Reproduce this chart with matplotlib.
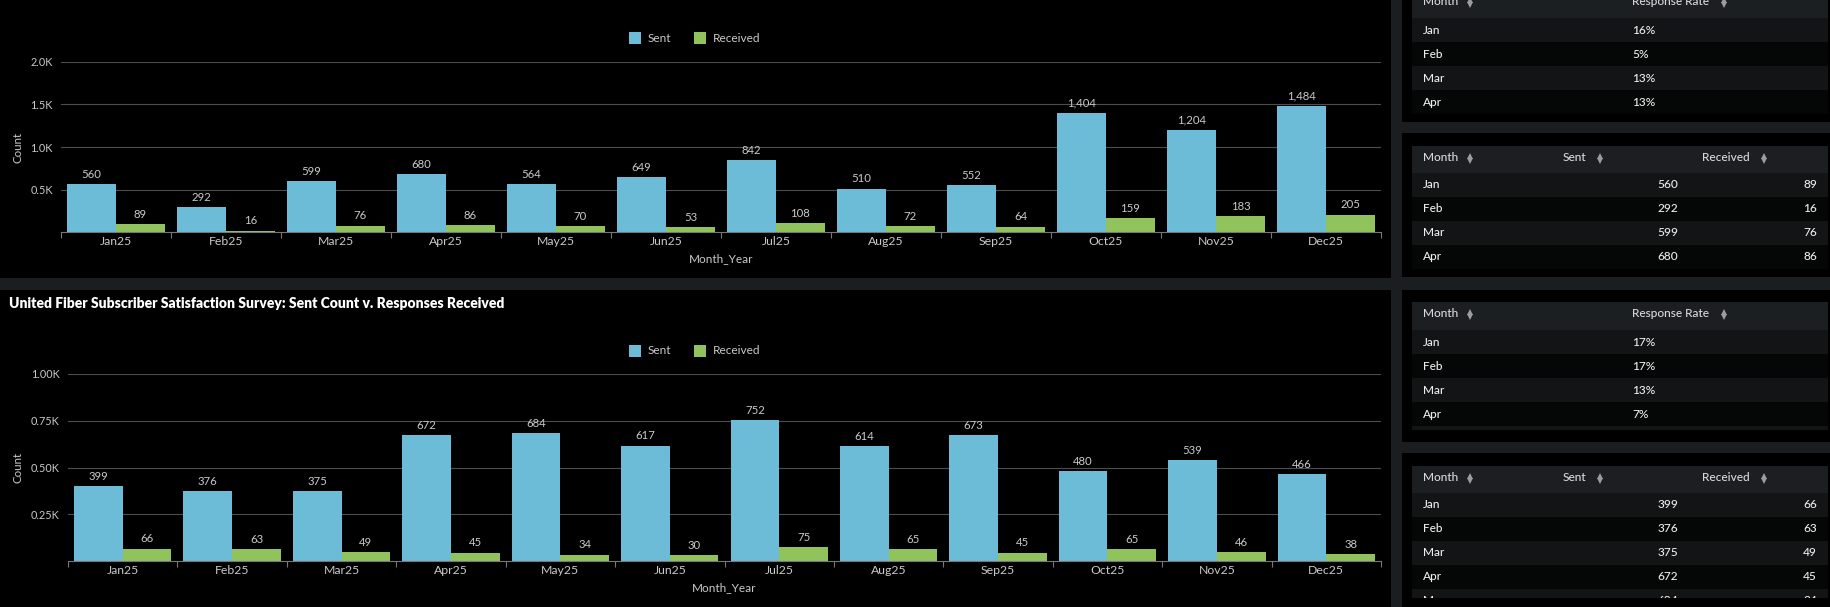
"""
Dashboard recreation: survey Sent vs Received bar charts with side tables.
Output: out.png (1830x607)
"""
import matplotlib
matplotlib.use("Agg")
import matplotlib.pyplot as plt
from matplotlib.patches import Rectangle
import numpy as np

plt.rcParams["font.family"] = ["Lato", "DejaVu Sans"]

# ---- data ----
months = ["Jan25", "Feb25", "Mar25", "Apr25", "May25", "Jun25",
          "Jul25", "Aug25", "Sep25", "Oct25", "Nov25", "Dec25"]
sent_top = [560, 292, 599, 680, 564, 649, 842, 510, 552, 1404, 1204, 1484]
recv_top = [89, 16, 76, 86, 70, 53, 108, 72, 64, 159, 183, 205]
sent_bottom = [399, 376, 375, 672, 684, 617, 752, 614, 673, 480, 539, 466]
recv_bottom = [66, 63, 49, 45, 34, 30, 75, 65, 45, 65, 46, 38]

top_yticks = [500, 1000, 1500, 2000]
top_yticklabels = ["0.5K", "1.0K", "1.5K", "2.0K"]
bottom_yticks = [250, 500, 750, 1000]
bottom_yticklabels = ["0.25K", "0.50K", "0.75K", "1.00K"]

bottom_title = "United Fiber Subscriber Satisfaction Survey: Sent Count v. Responses Received"
series_names = ["Sent", "Received"]

table_months = ["Jan", "Feb", "Mar", "Apr", "May"]
rate_top = ["16%", "5%", "13%", "13%"]
rate_bottom = ["17%", "17%", "13%", "7%"]

# ---- style ----
W, H = 1830, 607
SENT_C = "#6cbcd8"
RECV_C = "#90c35c"
SEP_C = "#1b1e21"
HEAD_C = "#1c1f22"
ROW_LIGHT = "#121416"
ROW_DARK = "#050606"
TXT = "#c9c9c9"
TBL_TXT = "#ececec"
GRID_C = "#4d4d4d"

fig = plt.figure(figsize=(W / 100, H / 100), dpi=100)
fig.patch.set_facecolor(SEP_C)

bg = fig.add_axes([0, 0, 1, 1])
bg.set_xlim(0, W)
bg.set_ylim(H, 0)
bg.axis("off")

# panels
for (x, y, w, h) in [(0, 0, 1391, 278), (0, 290, 1391, 317),
                     (1402, -5, 428, 127), (1402, 133, 428, 144),
                     (1402, 290, 428, 152), (1402, 453, 428, 160)]:
    bg.add_patch(Rectangle((x, y), w, h, color="#000000", lw=0))


def px_axes(x0, y0, x1, y1):
    return fig.add_axes([x0 / W, 1 - y1 / H, (x1 - x0) / W, (y1 - y0) / H])


def bar_chart(box, sent, recv, yticks, yticklabels, legend_y, xlabel_y):
    x0, y0, x1, y1 = box
    ax = px_axes(*box)
    ax.set_facecolor("none")
    x = np.arange(len(months))
    w = 0.445
    b1 = ax.bar(x - w / 2, sent, w, color=SENT_C, zorder=2)
    b2 = ax.bar(x + w / 2, recv, w, color=RECV_C, zorder=2)
    for bars, vals in [(b1, sent), (b2, recv)]:
        for rect, v in zip(bars, vals):
            ax.annotate(f"{v:,}", (rect.get_x() + rect.get_width() / 2, v),
                        xytext=(0, 3), textcoords="offset points",
                        ha="center", va="bottom", color=TXT, fontsize=8.2)
    ax.set_xlim(-0.5, len(months) - 0.5)
    ax.set_ylim(0, yticks[-1])
    ax.set_yticks(yticks)
    ax.set_yticklabels(yticklabels)
    ax.set_xticks(x)
    ax.set_xticklabels(months)
    ax.set_xticks(np.arange(len(months) + 1) - 0.5, minor=True)
    ax.tick_params(axis="x", which="major", length=0, pad=3, colors=TXT, labelsize=8.8)
    ax.tick_params(axis="x", which="minor", length=4, color="#777777", width=0.8)
    ax.tick_params(axis="y", length=0, pad=6, colors=TXT, labelsize=7.8)
    ax.grid(axis="y", color=GRID_C, lw=0.8, zorder=0)
    for s in ["top", "right", "left"]:
        ax.spines[s].set_visible(False)
    ax.spines["bottom"].set_color("#777777")
    ax.spines["bottom"].set_linewidth(0.8)

    # axis titles and legend in pixel space
    bg.text(18, (y0 + y1) / 2, "Count", rotation=90, ha="center", va="center",
            color=TXT, fontsize=8.3)
    bg.text((x0 + x1) / 2, xlabel_y, "Month_Year", ha="center", va="center",
            color=TXT, fontsize=8.5)
    lx = 629
    for name, col in zip(series_names, [SENT_C, RECV_C]):
        bg.add_patch(Rectangle((lx, legend_y - 6), 12, 12, color=col, lw=0))
        bg.text(lx + 19, legend_y, name, ha="left", va="center",
                color=TXT, fontsize=8.6)
        lx += 65
    return ax


bar_chart((61, 62, 1381, 232), sent_top, recv_top,
          top_yticks, top_yticklabels, legend_y=38, xlabel_y=259)
bar_chart((68, 374, 1381, 561), sent_bottom, recv_bottom,
          bottom_yticks, bottom_yticklabels, legend_y=351, xlabel_y=588)

bg.text(9, 304, bottom_title, ha="left", va="center", color="#ffffff",
        fontsize=10, fontweight="heavy")


# ---- tables ----
def sort_icon(x, y):
    bg.plot([x], [y - 2.6], marker="^", ms=3.8, color="#9c9c9c", mew=0, ls="none")
    bg.plot([x], [y + 2.6], marker="v", ms=3.8, color="#9c9c9c", mew=0, ls="none")


def table(head_top, head_h, headers, rows, clip_y=None, panel_end=None):
    # headers: (text, x, icon_x); rows: list of cells (text, x, ha)
    bg.add_patch(Rectangle((1412, head_top), 416, head_h, color=HEAD_C, lw=0))
    hy = head_top + 11.5
    for txt, hx, ix in headers:
        bg.text(hx, hy, txt, ha="left", va="center", color="#d8d8d8",
                fontsize=8.6, fontweight="medium")
        sort_icon(ix, hy + 1)
    ry = head_top + head_h
    for i, cells in enumerate(rows):
        bg.add_patch(Rectangle((1412, ry), 416, 24,
                               color=ROW_LIGHT if i % 2 == 0 else ROW_DARK, lw=0))
        for txt, cx, ha in cells:
            bg.text(cx, ry + 12, txt, ha=ha, va="center", color=TBL_TXT,
                    fontsize=8.6, fontweight="medium")
        ry += 24
    if clip_y is not None:
        # scroll viewport of the table ends here
        if clip_y > ry:
            bg.add_patch(Rectangle((1412, ry), 416, clip_y - ry,
                                   color=ROW_LIGHT, lw=0))
        bg.add_patch(Rectangle((1402, clip_y), 428, panel_end - clip_y,
                               color="#000000", lw=0, zorder=5))


rate_headers = [("Month", 1423, 1470), ("Response Rate", 1632, 1724)]
count_headers = [("Month", 1423, 1470), ("Sent", 1563, 1600), ("Received", 1702, 1764)]

table(-10, 28, rate_headers,
      [[(m, 1423, "left"), (r, 1632, "left")] for m, r in zip(table_months, rate_top)])
table(146, 27, count_headers,
      [[(m, 1423, "left"), (f"{s:,}", 1678, "right"), (f"{v:,}", 1817, "right")]
       for m, s, v in zip(table_months[:4], sent_top, recv_top)])
table(302, 28, rate_headers,
      [[(m, 1423, "left"), (r, 1632, "left")] for m, r in zip(table_months, rate_bottom)],
      clip_y=430, panel_end=442)
table(466, 27, count_headers,
      [[(m, 1423, "left"), (f"{s:,}", 1678, "right"), (f"{v:,}", 1817, "right")]
       for m, s, v in zip(table_months, sent_bottom, recv_bottom)],
      clip_y=598, panel_end=607)

fig.savefig("out.png", dpi=100, facecolor=fig.get_facecolor())
